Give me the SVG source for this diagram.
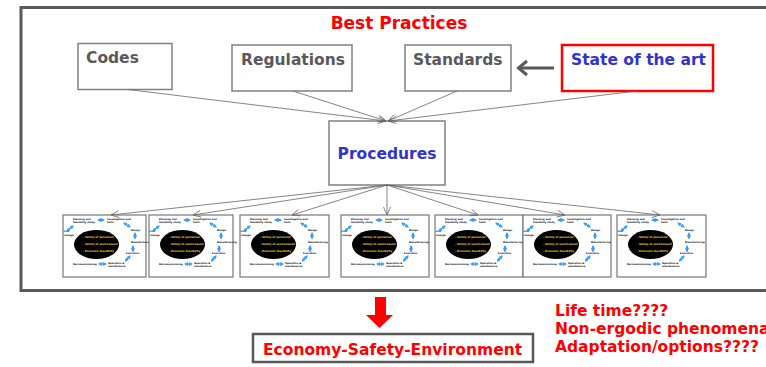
<svg xmlns="http://www.w3.org/2000/svg" xmlns:xlink="http://www.w3.org/1999/xlink" width="766" height="367" viewBox="0 0 766 367">
<style>
  .big { font-family: "DejaVu Sans", Verdana, sans-serif; font-weight: bold; font-size: 15.5px; }
  .gray { fill: #595959; }
  .blue { fill: #3333cc; }
  .red { fill: #ff0000; }
  .box { fill: #ffffff; stroke: #808080; stroke-width: 1.5; }
  .conn { stroke: #666666; stroke-width: 0.8; fill: none; marker-end: url(#open); }
  .pbox { fill: #ffffff; stroke: #777777; stroke-width: 1.2; }
  .tiny { font-family: "DejaVu Sans", Verdana, sans-serif; font-weight: bold; font-size: 2.4px; fill: #000; }
  .yel { font-family: "DejaVu Sans", Verdana, sans-serif; font-weight: bold; font-size: 2.6px; fill: #e8d43a; }
  .ba { stroke: #3b9cff; stroke-width: 1.3; marker-start: url(#bh); marker-end: url(#bh); }
</style>
<defs>
  <marker id="open" markerUnits="userSpaceOnUse" markerWidth="10" markerHeight="8" refX="9" refY="4" orient="auto">
    <path d="M1,0.5 L9,4 L1,7.5" fill="none" stroke="#666666" stroke-width="0.8"/>
  </marker>
  <marker id="bh" markerUnits="userSpaceOnUse" markerWidth="4" markerHeight="4" refX="3" refY="2" orient="auto-start-reverse">
    <path d="M0,0 L4,2 L0,4 z" fill="#3b9cff"/>
  </marker>
  <g id="lc">
    <ellipse cx="33.5" cy="29.5" rx="22.5" ry="14.5" fill="#000"/>
    <text class="yel" x="20" y="23">- Safety of personnel</text>
    <text class="yel" x="20" y="30">- Safety of environment</text>
    <text class="yel" x="20" y="37">- Economic feasibility</text>
    <text class="tiny" x="10" y="4.5">Planning and</text>
    <text class="tiny" x="10" y="7.8">feasibility study</text>
    <text class="tiny" x="44" y="4.5">Investigation and</text>
    <text class="tiny" x="44" y="7.8">tests</text>
    <text class="tiny" x="68" y="16">Design</text>
    <text class="tiny" x="68" y="27.5">Manufacturing</text>
    <text class="tiny" x="63" y="39">Execution</text>
    <text class="tiny" x="45" y="48.5">Operation &amp;</text>
    <text class="tiny" x="45" y="51.8">maintenance</text>
    <text class="tiny" x="10" y="49.5">Decommissioning</text>
    <text class="tiny" x="0.8" y="17">Life</text>
    <text class="tiny" x="0.8" y="20.5">change</text>
    <line class="ba" x1="35" y1="5" x2="41" y2="5"/>
    <line class="ba" x1="61" y1="8" x2="67" y2="12"/>
    <line class="ba" x1="72" y1="18" x2="72" y2="23.5"/>
    <line class="ba" x1="70" y1="31" x2="70" y2="36.5"/>
    <line class="ba" x1="67" y1="41" x2="62.5" y2="46"/>
    <line class="ba" x1="36" y1="49" x2="43" y2="49"/>
    <line class="ba" x1="4" y1="16" x2="10" y2="11"/>
  </g>
</defs>

<rect x="0" y="0" width="766" height="367" fill="#ffffff"/>

<g id="frame">
  <rect x="21" y="7.5" width="760" height="283" fill="#ffffff" stroke="#595959" stroke-width="3"/>
  <text class="big red" x="399" y="29" text-anchor="middle" style="font-size:17px">Best Practices</text>
</g>

<g id="codes">
  <rect class="box" x="78" y="43.5" width="94" height="46"/>
  <text class="big gray" x="86" y="63">Codes</text>
</g>
<g id="regulations">
  <rect class="box" x="232" y="45" width="120" height="46"/>
  <text class="big gray" x="241" y="65">Regulations</text>
</g>
<g id="standards">
  <rect class="box" x="405" y="45" width="106" height="46"/>
  <text class="big gray" x="413" y="65">Standards</text>
</g>
<g id="state">
  <rect x="562" y="45" width="151" height="46" fill="#ffffff" stroke="#ff0000" stroke-width="2.5"/>
  <text class="big blue" x="571" y="65">State of the art</text>
</g>
<g id="procedures">
  <rect class="box" x="329" y="121" width="116" height="64"/>
  <text class="big blue" x="387" y="159" text-anchor="middle">Procedures</text>
</g>

<g id="panel1"><rect class="pbox" x="63" y="215" width="83" height="62"/><use xlink:href="#lc" x="63" y="215"/></g>
<g id="panel2"><rect class="pbox" x="149" y="215" width="84" height="62"/><use xlink:href="#lc" x="149" y="215"/></g>
<g id="panel3"><rect class="pbox" x="240" y="215" width="89" height="62"/><use xlink:href="#lc" x="240" y="215"/></g>
<g id="panel4"><rect class="pbox" x="341" y="215" width="88" height="62"/><use xlink:href="#lc" x="341" y="215"/></g>
<g id="panel5"><rect class="pbox" x="435" y="215" width="88" height="62"/><use xlink:href="#lc" x="435" y="215"/></g>
<g id="panel6"><rect class="pbox" x="523" y="215" width="88" height="62"/><use xlink:href="#lc" x="523" y="215"/></g>
<g id="panel7"><rect class="pbox" x="617" y="215" width="89" height="62"/><use xlink:href="#lc" x="617" y="215"/></g>

<g id="connectors">
  <line class="conn" x1="128" y1="89.5" x2="386" y2="121"/>
  <line class="conn" x1="293" y1="91" x2="386" y2="121"/>
  <line class="conn" x1="457" y1="91" x2="388" y2="121"/>
  <line class="conn" x1="637" y1="91" x2="388" y2="121"/>
  <line class="conn" x1="387" y1="185" x2="111" y2="215"/>
  <line class="conn" x1="387" y1="185" x2="193" y2="215"/>
  <line class="conn" x1="387" y1="185" x2="292" y2="215"/>
  <line class="conn" x1="387" y1="185" x2="387" y2="215"/>
  <line class="conn" x1="387" y1="185" x2="478" y2="215"/>
  <line class="conn" x1="387" y1="185" x2="565" y2="215"/>
  <line class="conn" x1="387" y1="185" x2="660" y2="215"/>
  <line x1="554" y1="68" x2="519" y2="68" stroke="#595959" stroke-width="3"/>
  <polyline points="527,61 518.5,68 527,75" fill="none" stroke="#595959" stroke-width="3"/>
  <polygon points="375,297 386,297 386,315 393,315 379.5,328 366,315 375,315" fill="#ff0000"/>
</g>

<g id="outcome">
  <rect x="253" y="334" width="280" height="28" fill="#ffffff" stroke="#595959" stroke-width="2.5"/>
  <text class="big red" x="263" y="355">Economy-Safety-Environment</text>
</g>

<g id="questions">
  <text class="big red" x="555" y="316">Life time????</text>
  <text class="big red" x="555" y="334">Non-ergodic phenomena</text>
  <text class="big red" x="555" y="352">Adaptation/options????</text>
</g>
</svg>
